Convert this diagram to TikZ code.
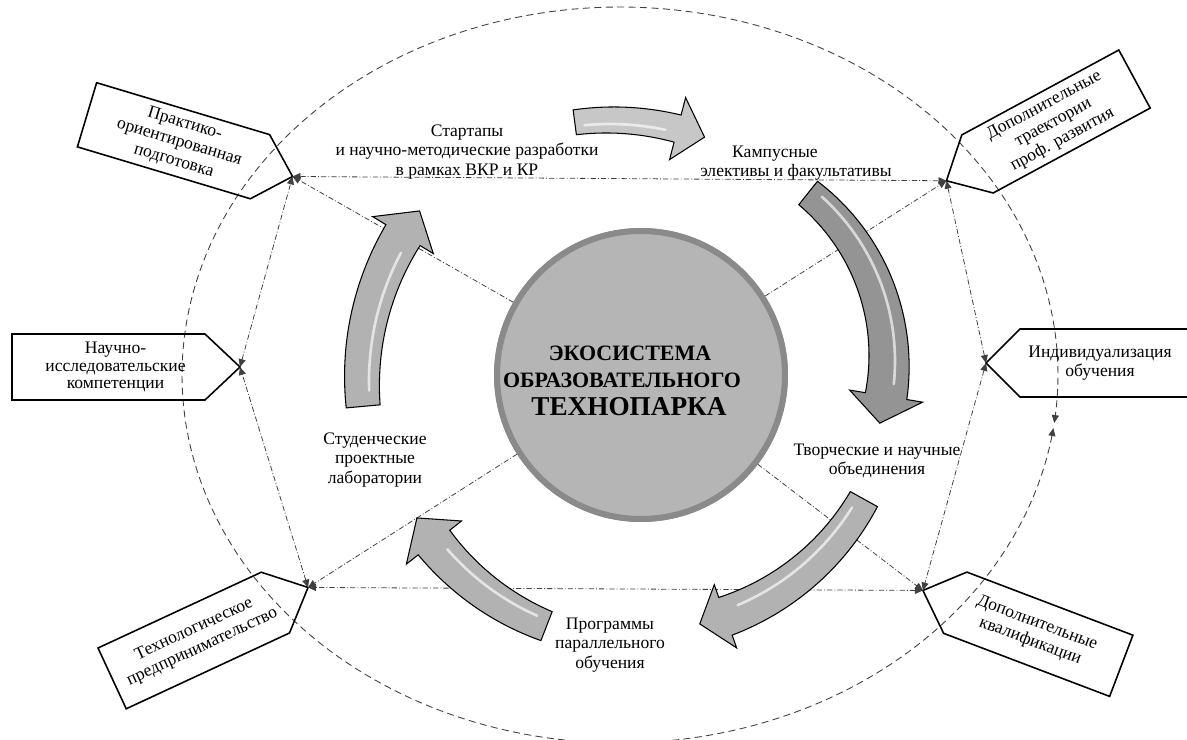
\documentclass[tikz,border=0pt]{standalone}
\usepackage{fontspec}
\setmainfont{Liberation Serif}
\usetikzlibrary{arrows.meta,shadows}

\def\afill{black!30}
% #1 cx #2 cy #3 r #4 a1 #5 a2 #6 tip angle #7 w1 #8 w2 #9 head width
\newcommand{\curvarrow}[9]{%
 \path[fill=\afill, draw=black, line width=0.6pt, line join=miter]
 plot[domain=#4:#5,samples=40,variable=\t] ({#1+(#3+(#7+(#8-#7)*(\t-(#4))/(#5-(#4)))/2)*cos(\t)},{#2+(#3+(#7+(#8-#7)*(\t-(#4))/(#5-(#4)))/2)*sin(\t)})
 -- ({#1+(#3+#9/2)*cos(#5)},{#2+(#3+#9/2)*sin(#5)})
 -- ({#1+#3*cos(#6)},{#2+#3*sin(#6)})
 -- ({#1+(#3-#9/2)*cos(#5)},{#2+(#3-#9/2)*sin(#5)})
 -- plot[domain=#5:#4,samples=40,variable=\t] ({#1+(#3-(#7+(#8-#7)*(\t-(#4))/(#5-(#4)))/2)*cos(\t)},{#2+(#3-(#7+(#8-#7)*(\t-(#4))/(#5-(#4)))/2)*sin(\t)})
 -- cycle;}
\newcommand{\shine}[5]{%
 \draw[white, opacity=0.65, line width=1.5pt, line cap=round]
 plot[domain=#4:#5,samples=30,variable=\t] ({#1+#3*cos(\t)},{#2+#3*sin(\t)});}

\begin{document}
\begin{tikzpicture}[x=0.02cm,y=-0.02cm,
  >={Triangle[length=4.5pt,width=4pt]},
  link/.style={draw=black!75, line width=0.45pt, dash pattern=on 3pt off 1.2pt on 0.5pt off 1.2pt},
  tagbox/.style={draw=black, line width=0.9pt, line join=miter},
  taglbl/.style={font=\fontsize{10}{11}\selectfont, align=center, inner sep=0pt},
  lbl/.style={font=\fontsize{10}{11}\selectfont, align=center, inner sep=0pt},
  ctitle/.style={font=\fontsize{12.5}{14}\selectfont\bfseries, anchor=base, inner sep=0pt}]

\useasboundingbox (0,0) rectangle (1187,740);

% outer dashed ellipse
\draw[draw=black!75, line width=0.5pt, dash pattern=on 4pt off 2.5pt, <->]
  plot[domain=8.3:367.5, samples=240, variable=\t] ({620+438*cos(\t)},{375+368*sin(\t)});

% boxes
\begin{scope}[shift={(173.5,140.75)}, rotate=-16.7]
  \draw[tagbox] (-90.3,-33.5) -- (90.3,-33.5) -- (124.3,0) -- (90.3,33.5) -- (-90.3,33.5) -- cycle;
  \node[taglbl, rotate=-16.7] (b1) at (6,0) {Практико-\\ориентированная\\подготовка};
  \coordinate (t1) at (124.3,0);
\end{scope}
\begin{scope}[shift={(1056,121.5)}, rotate=28.4]
  \draw[tagbox] (89.25,-33) -- (-89.25,-33) -- (-124.6,0) -- (-89.25,33) -- (89.25,33) -- cycle;
  \node[taglbl, rotate=28.4] (b2) at (-3,0) {Дополнительные\\траектории\\проф. развития};
  \coordinate (t2) at (-124.6,0);
\end{scope}
\begin{scope}[shift={(108.5,367)}]
  \draw[tagbox] (-96.5,-33) -- (96.5,-33) -- (131.5,0) -- (96.5,33) -- (-96.5,33) -- cycle;
  \node[taglbl, font=\fontsize{10}{10.2}\selectfont] (b3) at (7,0) {Научно-\\исследовательские\\компетенции};
  \coordinate (t6) at (131.5,0);
\end{scope}
\begin{scope}[shift={(1107.5,363)}]
  \draw[tagbox] (90,-34) -- (-87.5,-34) -- (-121.5,0) -- (-87.5,34) -- (90,34);
  \node[taglbl] (b4) at (-7.5,0) {Индивидуализация\\обучения};
  \coordinate (t3) at (-121.5,0);
\end{scope}
\begin{scope}[shift={(193.75,640.5)}, rotate=24.9]
  \draw[tagbox] (-90,-33.5) -- (90,-33.5) -- (126,0) -- (90,33.5) -- (-90,33.5) -- cycle;
  \node[taglbl, rotate=24.9] (b5) at (5,0) {Технологическое\\предпринимательство};
  \coordinate (t5) at (126,0);
\end{scope}
\begin{scope}[shift={(1038.25,634.25)}, rotate=-20.8]
  \draw[tagbox] (88.8,-32.75) -- (-88.8,-32.75) -- (-123.4,0) -- (-88.8,32.75) -- (88.8,32.75) -- cycle;
  \node[taglbl, rotate=-20.8] (b6) at (-5,0) {Дополнительные\\квалификации};
  \coordinate (t4) at (-123.4,0);
\end{scope}

% circle node (defined first for radial links)
\node[circle, minimum size=5.76cm, fill=black!29, draw=black!46, line width=3.4pt,
      drop shadow={opacity=0.3, shadow xshift=1.2pt, shadow yshift=-1.5pt}] (C) at (641,375) {};

% links between tags
\draw[link,<->] (t1) -- (t2);
\draw[link,<->] (t2) -- (t3);
\draw[link,<->] (t3) -- (t4);
\draw[link,<->] (t4) -- (t5);
\draw[link,<->] (t5) -- (t6);
\draw[link,<->] (t6) -- (t1);
% radial links
\draw[link,->] (C) -- (t1);
\draw[link,->] (C) -- (t2);
\draw[link,->] (C) -- (t4);
\draw[link,->] (C) -- (t5);

% curved arrows
\def\afill{black!22}
\curvarrow{610}{390}{270}{-97.5}{-75.5}{-69.5}{25}{28}{64}
\shine{610}{390}{266}{-95.5}{-78}
\def\afill{black!42}
\curvarrow{674}{361}{215}{-51.4}{9.4}{16.8}{30}{42}{74}
\shine{674}{361}{221}{-48}{6}
\def\afill{black!30}
\curvarrow{640}{375}{256}{29}{70.5}{76.5}{31}{40}{67}
\shine{640}{375}{250}{32}{67}
\curvarrow{642}{380}{264}{111.2}{142}{148.5}{31}{40}{70}
\shine{642}{380}{258}{114}{139}
\curvarrow{642}{381}{280}{174.8}{211.4}{217.4}{34}{40}{71}
\shine{642}{381}{273}{178}{208}

% circle redrawn on top
\node[circle, minimum size=5.76cm, fill=black!29, draw=black!46, line width=3.4pt] (C2) at (641,375) {};
\node[ctitle] (c1) at (630,360) {ЭКОСИСТЕМА};
\node[ctitle] (c2) at (622,387) {ОБРАЗОВАТЕЛЬНОГО};
\node[ctitle, font=\fontsize{15.5}{17}\selectfont\bfseries] (c3) at (629,415) {ТЕХНОПАРКА};

% labels
\node[lbl] (l1) at (467,152) {Стартапы\\и научно-методические разработки\\в рамках ВКР и КР};
\node[lbl] (l2) at (796,163) {Кампусные\hspace*{24pt}\\элективы и факультативы};
\node[lbl] (l3) at (877,461) {Творческие и научные\\объединения};
\node[lbl] (l4) at (610,645) {Программы\\параллельного\\обучения};
\node[lbl] (l5) at (375,460) {Студенческие\\проектные\\лаборатории};
\end{tikzpicture}
\end{document}
